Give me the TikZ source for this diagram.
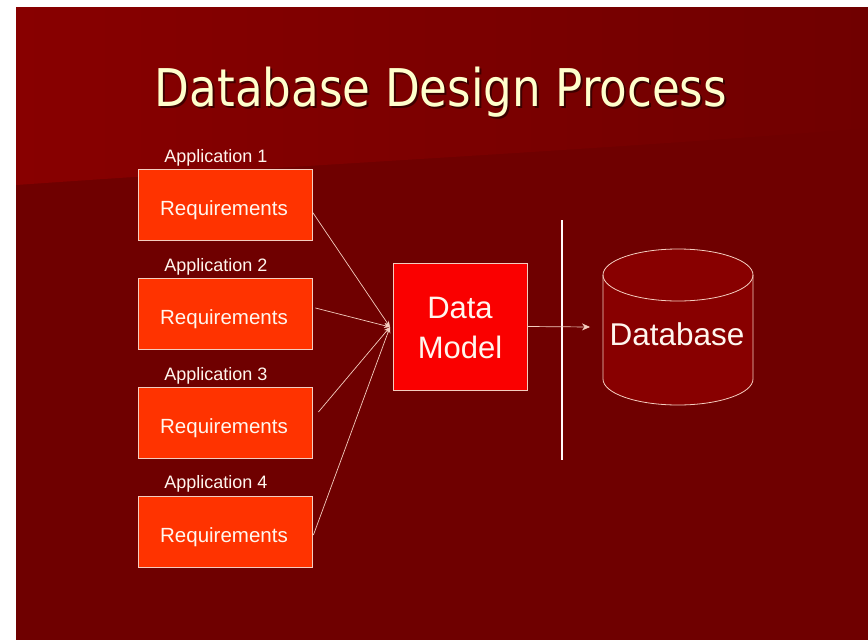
\documentclass[tikz,border=0pt]{standalone}
\usepackage{fontspec}
\setmainfont{Liberation Sans}
\newfontfamily\titlefont{DejaVu Sans}
\usetikzlibrary{arrows.meta,calc}
\definecolor{bgdark}{HTML}{6F0000}
\definecolor{bgtopl}{HTML}{880000}
\definecolor{bgtopr}{HTML}{700000}
\definecolor{reqfill}{HTML}{FF3300}
\definecolor{dmfill}{HTML}{FA0000}
\definecolor{dbfill}{HTML}{880000}
\definecolor{edgecol}{HTML}{F4CDBF}
\definecolor{titlecol}{HTML}{FFFFCC}
\definecolor{txtcol}{HTML}{FFF6EE}
\tikzset{
  reqbox/.style={draw=edgecol, line width=0.8pt, fill=reqfill, minimum width=174pt, minimum height=71pt, inner sep=0pt},
  dmbox/.style={draw=edgecol, line width=0.8pt, fill=dmfill, minimum width=134pt, minimum height=127pt, inner sep=0pt},
  applabel/.style={text=txtcol, font=\fontsize{18}{20}\selectfont, anchor=base, inner sep=0pt},
  reqtext/.style={text=txtcol, font=\fontsize{20.5}{22}\selectfont},
  conn/.style={draw=edgecol, line width=0.7pt, -{Stealth[length=6pt,width=5pt]}},
}
\begin{document}
\begin{tikzpicture}[x=1pt,y=-1pt]
\useasboundingbox (0,0) rectangle (868,640);
\fill[white] (0,0) rectangle (868,640);
% slide background
\fill[bgdark] (16,7) rectangle (868,640);
\shade[left color=bgtopl, right color=bgtopr] (16,7) -- (868,7) -- (868,128) .. controls (600,150) and (300,165) .. (16,185) -- cycle;
% title
\node[text=black, opacity=0.5, anchor=base, inner sep=0pt] (titleshadow) at (443,108) {\resizebox{572pt}{\height}{\titlefont\fontsize{52}{56}\selectfont Database Design Process}};
\node[text=titlecol, anchor=base, inner sep=0pt] (title) at (441,106) {\resizebox{572pt}{\height}{\titlefont\fontsize{52}{56}\selectfont Database Design Process}};
% application labels
\node[applabel] (a1) at (216,162) {Application 1};
\node[applabel] (a2) at (216,271) {Application 2};
\node[applabel] (a3) at (216,380) {Application 3};
\node[applabel] (a4) at (216,488) {Application 4};
% requirement boxes
\node[reqbox] (r1) at (225,204.5) {};
\node[reqbox] (r2) at (225,313.5) {};
\node[reqbox] (r3) at (225,422.5) {};
\node[reqbox] (r4) at (225,532) {};
\node[reqtext, anchor=base] (t1) at (224,215) {Requirements};
\node[reqtext, anchor=base] (t2) at (224,324) {Requirements};
\node[reqtext, anchor=base] (t3) at (224,433) {Requirements};
\node[reqtext, anchor=base] (t4) at (224,542) {Requirements};
% data model
\node[dmbox] (dm) at (460,326.5) {};
\node[text=txtcol, font=\fontsize{31}{40}\selectfont, anchor=base] (dmt1) at (460,318) {Data};
\node[text=txtcol, font=\fontsize{31}{40}\selectfont, anchor=base] (dmt2) at (460,358) {Model};
% convergence point
\coordinate (conv) at (390,327);
\draw[conn] ([shift={(0,7.5)}]r1.east) -- (conv);
\draw[conn] ([shift={(3,-5.5)}]r2.east) -- (conv);
\draw[conn] ([shift={(6,-10.5)}]r3.east) -- (conv);
\draw[conn] ([shift={(1,3)}]r4.east) -- (conv);
% separator
\coordinate (sepT) at (562,220);
\coordinate (sepB) at (562,460);
\draw[white!92!pink, line width=2.6pt] (sepT) -- (sepB);
% arrow to database
\coordinate (arrEnd) at (590,327);
\draw[draw=edgecol, line width=0.7pt, -{Stealth[length=8pt,width=7pt]}] (dm.east) -- (arrEnd);
% database cylinder
\path[fill=dbfill] (603,275) -- (603,379) arc[start angle=180, end angle=0, x radius=75, y radius=26] -- (753,275) arc[start angle=0, end angle=-180, x radius=75, y radius=26] -- cycle;
\draw[edgecol, line width=0.8pt] (603,275) -- (603,379) arc[start angle=180, end angle=0, x radius=75, y radius=26] -- (753,275);
\draw[edgecol, line width=0.8pt] (678,275) ellipse [x radius=75, y radius=26];
\node[text=txtcol, font=\fontsize{31.5}{40}\selectfont, anchor=base] (db) at (677,345) {Database};
\end{tikzpicture}
\end{document}
